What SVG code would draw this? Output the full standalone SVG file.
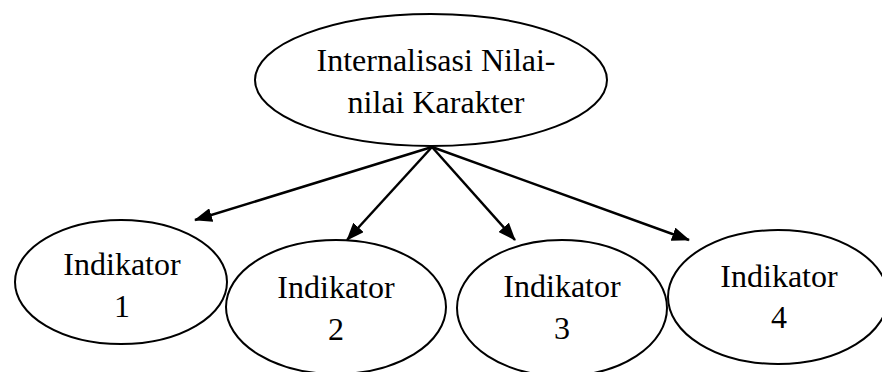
<svg xmlns="http://www.w3.org/2000/svg" width="882" height="372" viewBox="0 0 882 372">
<style>
.n{fill:#fff;stroke:#000;stroke-width:2}
.t{font-family:"Liberation Serif","Times New Roman",serif;font-size:32px;fill:#000;text-anchor:middle}
.c{stroke:#000;stroke-width:2.5;fill:none;marker-end:url(#ah)}
</style>
<defs>
<marker id="ah" markerWidth="18" markerHeight="14" refX="17" refY="7" orient="auto" markerUnits="userSpaceOnUse">
<path d="M0,0 L18,7 L0,14 Z" fill="#000"/>
</marker>
</defs>
<rect width="882" height="372" fill="#fff"/>
<g id="root">
<ellipse class="n" cx="431" cy="80" rx="176" ry="66"/>
<text class="t" x="436" y="71">Internalisasi Nilai-</text>
<text class="t" x="436" y="113">nilai Karakter</text>
</g>
<g id="ind1">
<ellipse class="n" cx="121" cy="282" rx="106" ry="62"/>
<text class="t" x="122" y="275">Indikator</text>
<text class="t" x="122" y="317">1</text>
</g>
<g id="ind2">
<ellipse class="n" cx="336" cy="307" rx="110" ry="67"/>
<text class="t" x="336" y="298">Indikator</text>
<text class="t" x="336" y="340">2</text>
</g>
<g id="ind3">
<ellipse class="n" cx="562" cy="308" rx="105" ry="68"/>
<text class="t" x="562" y="297">Indikator</text>
<text class="t" x="562" y="339">3</text>
</g>
<g id="ind4">
<ellipse class="n" cx="778" cy="297" rx="110" ry="67"/>
<text class="t" x="779" y="287">Indikator</text>
<text class="t" x="779" y="328">4</text>
</g>
<g id="connectors">
<line class="c" x1="432" y1="147" x2="195" y2="220"/>
<line class="c" x1="432" y1="147" x2="347" y2="240"/>
<line class="c" x1="432" y1="147" x2="515" y2="240"/>
<line class="c" x1="432" y1="147" x2="689" y2="240"/>
</g>
</svg>
